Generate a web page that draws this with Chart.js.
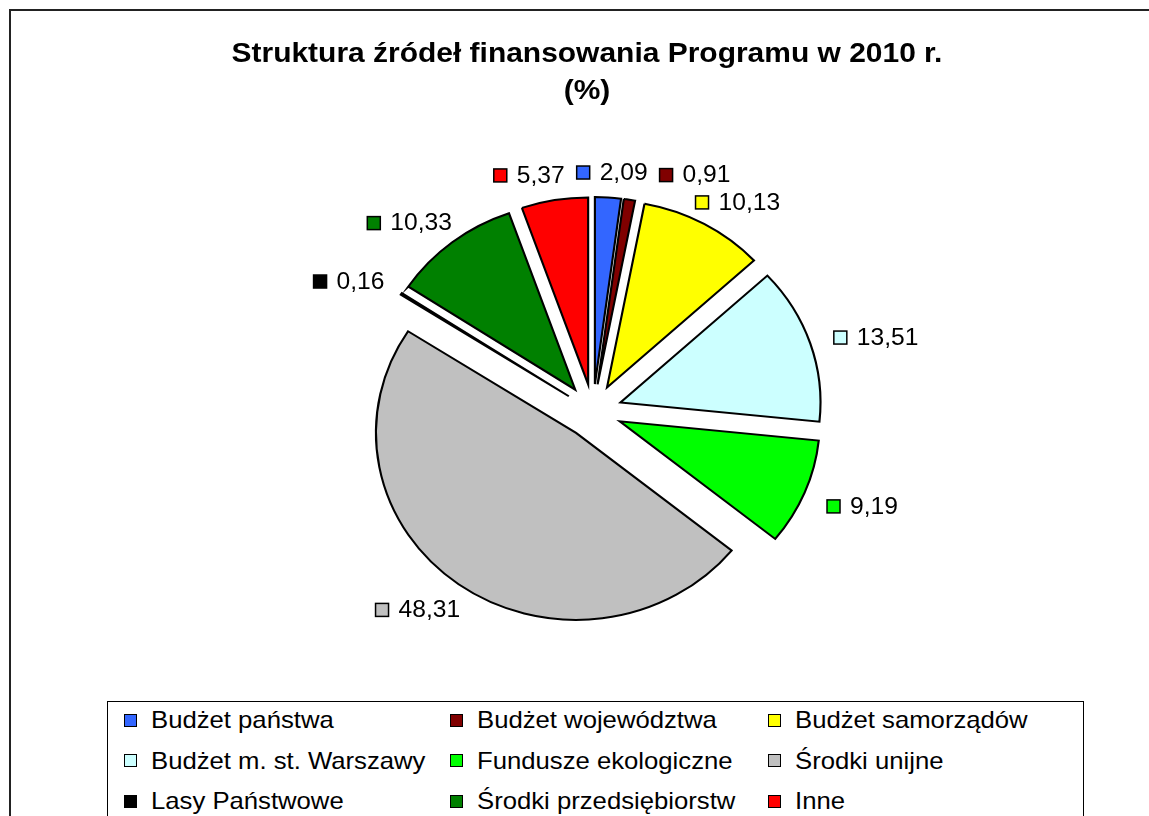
<!DOCTYPE html>
<html lang="pl">
<head>
<meta charset="utf-8">
<script src="https://cdn.jsdelivr.net/npm/chart.js@4/dist/chart.umd.min.js"></script>
<style>
  body { margin: 0; background: #fff; font-family: "Liberation Sans", Arial, sans-serif; }
  #wrap { position: relative; width: 1149px; height: 816px; overflow: hidden; }
  #frame { position: absolute; left: 9px; top: 9px; width: 1200px; height: 900px;
           border-top: 2px solid #222; border-left: 2px solid #222; }
  #title { position: absolute; left: 0; top: 34px; width: 1174px; text-align: center;
           font-weight: bold; font-size: 28px; line-height: 37px; color: #000;
           transform: scaleX(1.07); transform-origin: 587px 0; }
  #chart { position: absolute; left: 0; top: 0; }
  #legend { position: absolute; left: 107px; top: 701px; width: 975px; height: 140px;
            border: 1px solid #000; background: #fff; }
  #legend .grid { position: absolute; left: 16px; top: -2px; display: grid;
                  grid-template-columns: 326px 318px 300px; grid-auto-rows: 40.5px; }
  #legend .item { display: flex; align-items: center; font-size: 24px; color: #000; white-space: nowrap; }
  #legend .sw { width: 11px; height: 11px; border: 1px solid #000; margin-right: 14px; flex: none; }
  #legend .tx { display: inline-block; transform: scaleX(1.07); transform-origin: 0 50%; }
</style>
</head>
<body>
<div id="wrap">
  <div id="frame"></div>
  <div id="legend"><div class="grid"></div></div>
  <canvas id="chart" width="1149" height="816"></canvas>
  <div id="title"></div>
</div>
<script>
// Struktura źródeł finansowania Programu w 2010 r. (%)
const titleLines = ['Struktura źródeł finansowania Programu w 2010 r.', '(%)'];
const categories = ['Budżet państwa', 'Budżet województwa', 'Budżet samorządów',
    'Budżet m. st. Warszawy', 'Fundusze ekologiczne', 'Środki unijne',
    'Lasy Państwowe', 'Środki przedsiębiorstw', 'Inne'];
const values = [2.09, 0.91, 10.13, 13.51, 9.19, 48.31, 0.16, 10.33, 5.37];
const colors = ['#3366FF', '#800000', '#FFFF00', '#CCFFFF', '#00FF00', '#C0C0C0',
    '#000000', '#008000', '#FF0000'];

const SX = 1.07;      // the picture is slightly wider than tall
const EXPLODE = 27;   // px each slice is pulled out
const LABEL_GAP = 16;
const LABEL_GAP_X = 10;

document.getElementById('title').innerHTML = titleLines.join('<br>');

// legend (3 columns, boxed)
const grid = document.querySelector('#legend .grid');
categories.forEach((c, i) => {
    const d = document.createElement('div');
    d.className = 'item';
    d.innerHTML = '<span class="sw" style="background:' + colors[i] + '"></span><span class="tx">' + c + '</span>';
    grid.appendChild(d);
});

const fmt = v => v.toFixed(2).replace('.', ',');

// exploded, slightly stretched pie: draw the library's arcs ourselves
const explode = {
    id: 'explode',
    beforeDatasetsDraw(chart) {
        const ctx = chart.ctx;
        chart.getDatasetMeta(0).data.forEach(arc => {
            const mid = (arc.startAngle + arc.endAngle) / 2;
            ctx.save();
            ctx.translate(arc.x, 0);
            ctx.scale(SX, 1);
            ctx.translate(-arc.x, 0);
            ctx.translate(Math.cos(mid) * EXPLODE, Math.sin(mid) * EXPLODE);
            arc.draw(ctx);
            ctx.restore();
        });
        return false;
    }
};

// value labels with colour keys, outside the slices
const valueLabels = {
    id: 'valueLabels',
    afterDraw(chart) {
        const ctx = chart.ctx;
        const arcs = chart.getDatasetMeta(0).data;
        ctx.save();
        ctx.font = '23px "Liberation Sans", Arial, sans-serif';
        ctx.textBaseline = 'middle';
        const h = 24, key = 13, pad = 10, margin = 12;
        const boxes = [];
        arcs.forEach((arc, i) => {
            const mid = (arc.startAngle + arc.endAngle) / 2;
            const c = Math.cos(mid), s = Math.sin(mid);
            const txt = fmt(values[i]);
            const w = key + pad + ctx.measureText(txt).width * SX;
            const r = arc.outerRadius + EXPLODE + LABEL_GAP;
            const cx = arc.x + r * c * SX + c * (w / 2 + LABEL_GAP_X);
            const cy = arc.y + r * s + s * h / 2 + 3;
            const b = { l: cx - w / 2, r: cx + w / 2, t: cy - h / 2, b: cy + h / 2 };
            for (let pass = 0; pass < 3; pass++) {
                boxes.forEach(o => {
                    if (b.l < o.r + margin && b.r > o.l - margin && b.t < o.b && b.b > o.t) {
                        const dx = (b.l + b.r) / 2 >= (o.l + o.r) / 2 ? (o.r + margin - b.l) : (o.l - margin - b.r);
                        b.l += dx; b.r += dx;
                    }
                });
            }
            boxes.push(b);
            const ky = (b.t + b.b) / 2;
            ctx.fillStyle = colors[i];
            ctx.fillRect(b.l, ky - key / 2, key, key);
            ctx.strokeStyle = '#000';
            ctx.lineWidth = 1.5;
            ctx.strokeRect(b.l, ky - key / 2, key, key);
            ctx.save();
            ctx.translate(b.l + key + pad, ky + 1);
            ctx.scale(SX, 1);
            ctx.fillStyle = '#000';
            ctx.textAlign = 'left';
            ctx.fillText(txt, 0, 0);
            ctx.restore();
        });
        ctx.restore();
    }
};

const ctx = document.getElementById('chart').getContext('2d');
const pieChart = new Chart(ctx, {
    type: 'pie',
    data: {
        labels: categories,
        datasets: [{
            data: values,
            backgroundColor: colors,
            borderColor: '#000',
            borderWidth: 2,
            borderJoinStyle: 'miter'
        }]
    },
    options: {
        responsive: false,
        animation: false,
        radius: 187,
        layout: { padding: { left: 200, right: 163, top: 180, bottom: 174 } },
        events: [],
        plugins: {
            legend: { display: false },
            tooltip: { enabled: false }
        }
    },
    plugins: [explode, valueLabels]
});
</script>
</body>
</html>
